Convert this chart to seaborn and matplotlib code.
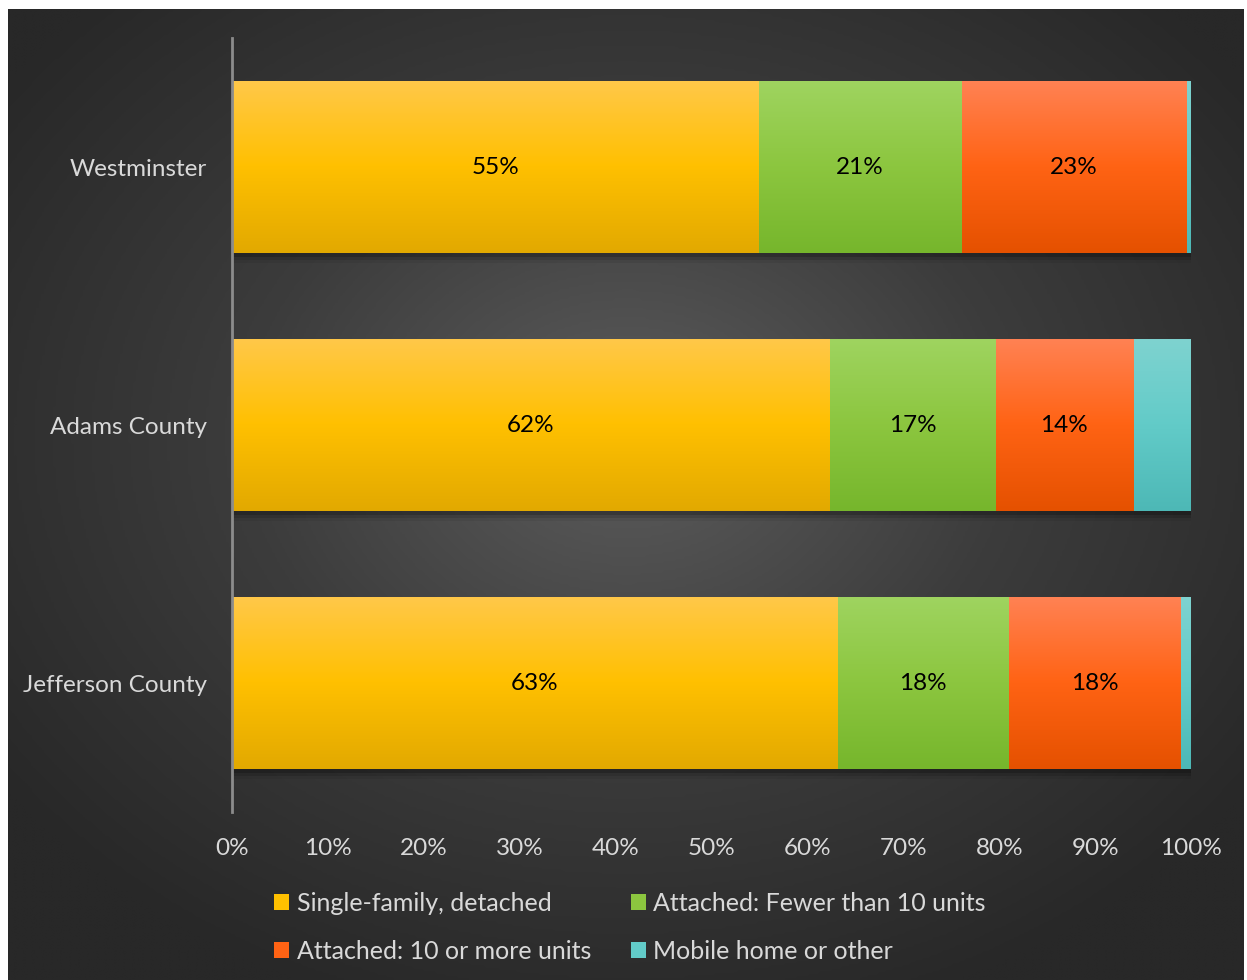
import numpy as np
import pandas as pd
import matplotlib
matplotlib.use("Agg")
import matplotlib.pyplot as plt
import seaborn as sns
from matplotlib.colors import LinearSegmentedColormap
from matplotlib.patches import Patch

# ---- data ----
regions = ["Westminster", "Adams County", "Jefferson County"]
series = ["Single-family, detached", "Attached: Fewer than 10 units",
          "Attached: 10 or more units", "Mobile home or other"]
single_family = [54.9, 62.3, 63.1]
attached_small = [21.2, 17.3, 17.9]
attached_large = [23.4, 14.4, 17.9]
mobile_other = [0.5, 6.0, 1.1]
tick_labels = ["0%", "10%", "20%", "30%", "40%", "50%", "60%", "70%", "80%", "90%", "100%"]

values = [single_family, attached_small, attached_large, mobile_other]
# gradient colours (top, middle, bottom)
grads = [("#FFC84A", "#FFC000", "#E2A900"),
         ("#9FD460", "#8CC63F", "#76B62C"),
         ("#FF8254", "#FF6314", "#E55100"),
         ("#7FD3D0", "#62CBC8", "#4DB8B6")]

sns.set_theme(style="white")
plt.rcParams['font.family'] = ['Lato', 'DejaVu Sans']

W, H = 1247, 980
fig = plt.figure(figsize=(W / 100, H / 100), dpi=100, facecolor="white")

# background panel with radial gradient
bg = fig.add_axes([8 / W, 0, (1244 - 8) / W, (980 - 9) / H], zorder=-10)
yy, xx = np.mgrid[0:400, 0:500]
cx, cy = 0.50 * 500, 0.44 * 400
r = np.sqrt(((xx - cx) / 500) ** 2 + ((yy - cy) / 400) ** 2)
r = np.clip(r / 0.62, 0, 1)
bgcmap = LinearSegmentedColormap.from_list("bg", ["#5d5d5d", "#3c3c3c", "#282828"])
bg.imshow(r, cmap=bgcmap, aspect="auto", vmin=0, vmax=1, interpolation="bilinear")
bg.set_axis_off()

ax = fig.add_axes([232 / W, 1 - 812 / H, (1191 - 232) / W, (812 - 38) / H])
ax.set_facecolor("none")

cum = np.cumsum(np.array(values), axis=0)
df_rows = []
for si, s in enumerate(series):
    for ri, reg in enumerate(regions):
        df_rows.append({"region": reg, "series": s, "cum": cum[si, ri],
                        "start": cum[si, ri] - values[si][ri], "val": values[si][ri]})
df = pd.DataFrame(df_rows)

# stacked bars via cumulative totals drawn from largest to smallest
for si in range(len(series) - 1, -1, -1):
    sub = df[df["series"] == series[si]]
    n_before = len(ax.patches)
    sns.barplot(data=sub, x="cum", y="region", order=regions, orient="h",
                color=grads[si][1], width=0.67, ax=ax, zorder=2 + (3 - si))
    new = ax.patches[n_before:]
    cmap = LinearSegmentedColormap.from_list(f"g{si}", list(grads[si]))
    grad = np.linspace(0, 1, 256).reshape(-1, 1)
    for p in new:
        x0, y0 = p.get_x(), p.get_y()
        w, h = p.get_width(), p.get_height()
        p.set_facecolor("none")
        p.set_edgecolor("none")
        im = ax.imshow(grad, cmap=cmap, aspect="auto",
                       extent=[x0, x0 + w, y0 + h, y0], zorder=3 + (3 - si),
                       interpolation="bilinear")
        im.set_clip_path(p)
        if si == len(series) - 1:
            # soft drop shadow behind the full bar
            for k, a in enumerate([0.18, 0.12, 0.06]):
                sh = plt.Rectangle((x0, y0 + 0.012 * (k + 1)), w + 0.35 * (k + 1), h,
                                   facecolor="black", alpha=a, edgecolor="none", zorder=1)
                ax.add_patch(sh)

# labels
for _, row in df.iterrows():
    if row["series"] == series[-1]:
        continue
    yi = regions.index(row["region"])
    ax.text(row["start"] + row["val"] / 2, yi, f"{round(row['val']):.0f}%",
            ha="center", va="center", color="black", fontsize=17.5, zorder=10)

ax.set_xlim(0, 100)
ax.set_ylim(2.5, -0.5)
ax.set_xticks(np.arange(0, 101, 10))
ax.set_xticklabels(tick_labels)
ax.set_xlabel("")
ax.set_ylabel("")
ax.tick_params(axis="both", length=0, colors="#d9d9d9", labelsize=17.5)
ax.tick_params(axis="x", pad=19)
ax.tick_params(axis="y", pad=18)
for s in ["top", "right", "bottom"]:
    ax.spines[s].set_visible(False)
ax.spines["left"].set_color("#8c8c8c")
ax.spines["left"].set_linewidth(2)
ax.spines["left"].set_zorder(20)
ax.grid(False)

order = [0, 2, 1, 3]  # column-major fill -> row-wise appearance
handles = [Patch(facecolor=grads[i][1], edgecolor="none") for i in order]
labels = [series[i] for i in order]
leg = fig.legend(handles, labels, loc="center", bbox_to_anchor=(630 / W, 1 - 927 / H),
                 ncol=2, frameon=False, fontsize=18, labelcolor="#d9d9d9",
                 handlelength=0.6, handleheight=0.6, handletextpad=0.3,
                 columnspacing=1.6, labelspacing=1.0)

fig.savefig("out.png", dpi=100, facecolor="white")
